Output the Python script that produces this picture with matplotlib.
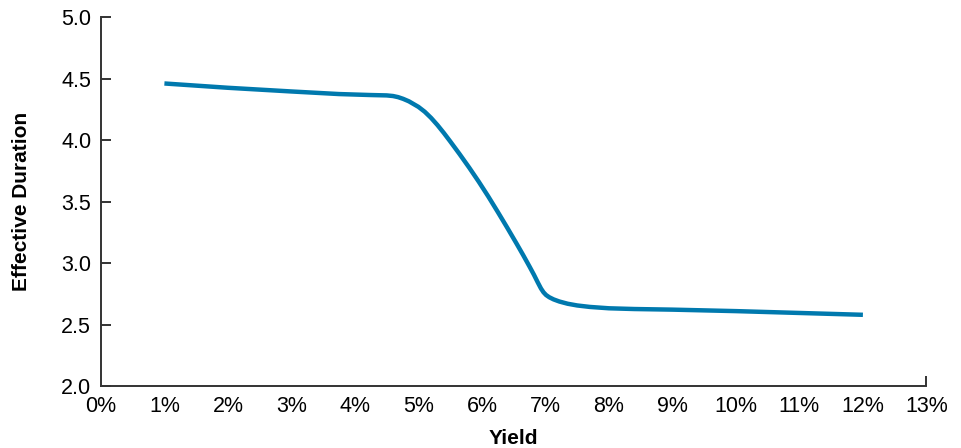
import numpy as np
import matplotlib.pyplot as plt

plt.rcParams['font.family'] = ['Liberation Sans', 'DejaVu Sans']

# yield (%) vs effective duration
yield_pct = [1.0, 2.0, 3.0, 3.75, 4.25, 4.5, 4.6, 4.68, 4.76, 4.85, 5.0, 5.1, 5.2, 5.3,
             5.4, 5.5, 5.65, 5.8, 5.95, 6.1, 6.25, 6.4, 6.55, 6.65, 6.75,
             6.82, 6.88, 6.93, 6.97, 7.01, 7.06, 7.13, 7.22, 7.35, 7.5, 7.7,
             8.0, 8.4, 9.0, 10.0, 11.0, 12.0]
duration = [4.46, 4.425, 4.395, 4.374, 4.366, 4.363, 4.358, 4.349, 4.335, 4.315, 4.27, 4.23, 4.18, 4.122,
            4.058, 3.99, 3.885, 3.776, 3.662, 3.542, 3.416, 3.287, 3.155, 3.065, 2.972,
            2.905, 2.843, 2.794, 2.763, 2.741, 2.723, 2.705, 2.688, 2.670, 2.656, 2.644,
            2.633, 2.627, 2.622, 2.61, 2.595, 2.58]

x_ticks = list(range(0, 14))
x_labels = [f"{t}%" for t in x_ticks]
y_ticks = [2.0, 2.5, 3.0, 3.5, 4.0, 4.5, 5.0]

fig = plt.figure(figsize=(9.61, 4.48), dpi=100)
ax = fig.add_axes([0.105, 0.138, 0.859, 0.824])

ax.plot(yield_pct, duration, color='#0079ae', lw=3.2,
        solid_capstyle='butt', solid_joinstyle='round')

ax.set_xlim(0, 13)
ax.set_ylim(2.0, 5.0)
ax.set_xticks(x_ticks)
ax.set_xticklabels(x_labels)
ax.set_yticks(y_ticks)
ax.set_yticklabels([f"{v:.1f}" for v in y_ticks])

for s in ['top', 'right']:
    ax.spines[s].set_visible(False)
for s in ['left', 'bottom']:
    ax.spines[s].set_color('#333333')
    ax.spines[s].set_linewidth(1.4)

ax.tick_params(axis='y', direction='in', length=7.5, width=1.4, color='#333333',
               labelsize=15.5, pad=7)
ax.tick_params(axis='x', length=0, labelsize=15.5, pad=7)
# end cap tick at 13%
ax.xaxis.remove_overlapping_locs = False
ax.set_xticks([13], minor=True)
ax.tick_params(axis='x', which='minor', direction='in', length=7.5, width=1.4,
               color='#333333')

ax.set_ylabel('Effective Duration', fontsize=15, fontweight='bold', labelpad=22)
ax.set_xlabel('Yield', fontsize=15, fontweight='bold', labelpad=9)

fig.savefig('out.png', dpi=100)
